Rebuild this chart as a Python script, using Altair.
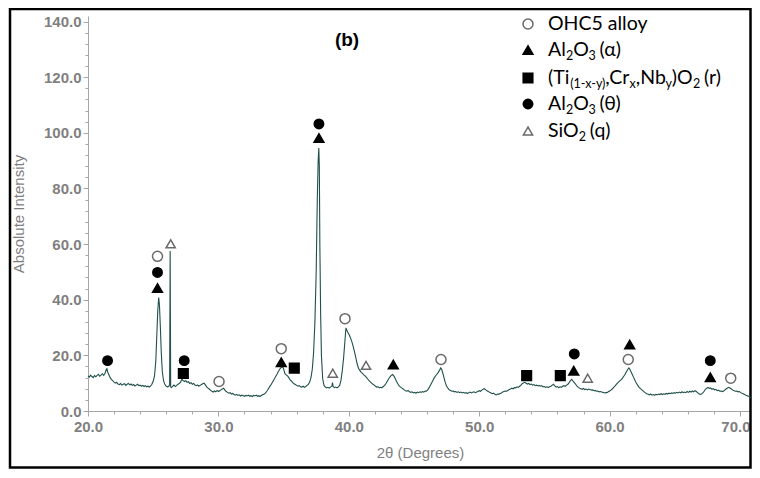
import altair as alt
import pandas as pd

# ---------------- data ----------------
two_theta = [
    20.0, 20.1, 20.2, 20.3, 20.4, 20.5, 20.6, 20.7, 20.8, 20.9, 21.0, 21.1, 21.2, 21.3, 21.4, 21.45, 21.5, 21.6, 21.7, 21.8, 21.9,
    22.0, 22.1, 22.2, 22.3, 22.4, 22.5, 22.6, 22.7, 22.8, 22.9, 23.0, 23.1, 23.2, 23.3, 23.4, 23.5, 23.6, 23.7, 23.8, 23.9,
    24.0, 24.1, 24.2, 24.3, 24.4, 24.5, 24.6, 24.7, 24.8, 24.9, 25.0, 25.1, 25.2, 25.3, 25.35, 25.42, 25.48, 25.55, 25.62, 25.7,
    25.8, 25.9, 26.0, 26.1, 26.2, 26.26, 26.3, 26.34, 26.4, 26.5, 26.6, 26.7, 26.8, 26.9, 27.0, 27.1, 27.2, 27.3, 27.4, 27.5,
    27.6, 27.7, 27.8, 27.9, 28.0, 28.1, 28.2, 28.3, 28.4, 28.5, 28.6, 28.7, 28.8, 28.9, 29.0, 29.1, 29.2, 29.3, 29.4, 29.5,
    29.6, 29.7, 29.8, 29.9, 30.0, 30.1, 30.2, 30.3, 30.4, 30.5, 30.6, 30.7, 30.8, 30.9, 31.0, 31.1, 31.2, 31.3, 31.4, 31.5,
    31.6, 31.7, 31.8, 31.9, 32.0, 32.1, 32.2, 32.3, 32.4, 32.5, 32.6, 32.7, 32.8, 32.9, 33.0, 33.1, 33.2, 33.3, 33.4, 33.5,
    33.6, 33.7, 33.8, 33.9, 34.0, 34.1, 34.2, 34.3, 34.4, 34.5, 34.6, 34.7, 34.8, 34.9, 35.0, 35.1, 35.2, 35.3, 35.4, 35.5,
    35.6, 35.7, 35.8, 35.9, 36.0, 36.1, 36.2, 36.3, 36.4, 36.5, 36.6, 36.7, 36.8, 36.9, 37.0, 37.1, 37.2, 37.3, 37.4, 37.5,
    37.58, 37.65, 37.7, 37.74, 37.78, 37.84, 37.9, 38.0, 38.1, 38.2, 38.3, 38.4, 38.5, 38.6, 38.7, 38.75, 38.8, 38.9, 39.0,
    39.1, 39.2, 39.3, 39.4, 39.5, 39.6, 39.7, 39.78, 39.85, 39.95, 40.05, 40.15, 40.25, 40.35, 40.45, 40.55, 40.65, 40.75,
    40.85, 40.95, 41.05, 41.15, 41.25, 41.35, 41.45, 41.55, 41.65, 41.75, 41.85, 41.95, 42.05, 42.15, 42.25, 42.35, 42.45,
    42.55, 42.65, 42.75, 42.85, 42.95, 43.05, 43.15, 43.25, 43.35, 43.45, 43.55, 43.65, 43.75, 43.85, 43.95, 44.05, 44.15,
    44.25, 44.35, 44.45, 44.55, 44.65, 44.75, 44.85, 44.95, 45.05, 45.15, 45.25, 45.35, 45.45, 45.55, 45.65, 45.75, 45.85,
    45.95, 46.05, 46.15, 46.25, 46.35, 46.45, 46.55, 46.65, 46.75, 46.85, 46.95, 47.05, 47.12, 47.2, 47.3, 47.4, 47.5, 47.6,
    47.7, 47.8, 47.9, 48.0, 48.1, 48.2, 48.3, 48.4, 48.5, 48.6, 48.7, 48.8, 48.9, 49.0, 49.1, 49.2, 49.3, 49.4, 49.5, 49.6,
    49.7, 49.8, 49.9, 50.0, 50.1, 50.2, 50.3, 50.4, 50.5, 50.6, 50.7, 50.8, 50.9, 51.0, 51.1, 51.2, 51.3, 51.4, 51.5, 51.6,
    51.7, 51.8, 51.9, 52.0, 52.1, 52.2, 52.3, 52.4, 52.5, 52.6, 52.7, 52.8, 52.9, 53.0, 53.1, 53.2, 53.3, 53.4, 53.5, 53.6,
    53.7, 53.8, 53.9, 54.0, 54.1, 54.2, 54.3, 54.4, 54.5, 54.6, 54.7, 54.8, 54.9, 55.0, 55.1, 55.2, 55.3, 55.4, 55.5, 55.6,
    55.7, 55.8, 55.9, 56.0, 56.1, 56.2, 56.3, 56.4, 56.5, 56.6, 56.7, 56.8, 56.9, 57.0, 57.1, 57.2, 57.3, 57.4, 57.5, 57.6,
    57.7, 57.8, 57.9, 58.0, 58.1, 58.2, 58.3, 58.4, 58.5, 58.6, 58.7, 58.8, 58.9, 59.0, 59.1, 59.2, 59.3, 59.4, 59.5, 59.6,
    59.7, 59.8, 59.9, 60.0, 60.1, 60.2, 60.3, 60.4, 60.5, 60.6, 60.7, 60.8, 60.9, 61.0, 61.1, 61.2, 61.3, 61.4, 61.48, 61.55,
    61.65, 61.75, 61.85, 61.95, 62.05, 62.15, 62.25, 62.35, 62.45, 62.55, 62.65, 62.75, 62.85, 62.95, 63.05, 63.15, 63.25,
    63.35, 63.45, 63.55, 63.65, 63.75, 63.85, 63.95, 64.05, 64.15, 64.25, 64.35, 64.45, 64.55, 64.65, 64.75, 64.85, 64.95,
    65.05, 65.15, 65.25, 65.35, 65.45, 65.55, 65.65, 65.75, 65.85, 65.95, 66.05, 66.15, 66.25, 66.35, 66.45, 66.55, 66.65,
    66.75, 66.85, 66.95, 67.05, 67.15, 67.25, 67.35, 67.45, 67.55, 67.65, 67.75, 67.85, 67.95, 68.05, 68.15, 68.25, 68.35,
    68.45, 68.55, 68.65, 68.75, 68.85, 68.95, 69.05, 69.15, 69.25, 69.35, 69.45, 69.55, 69.65, 69.75, 69.85, 69.95, 70.05,
    70.15, 70.25, 70.35, 70.45, 70.55, 70.65, 70.75, 70.85,
]
intensity = [
    12.6, 12.2, 12.9, 12.4, 12.0, 12.7, 12.3, 12.8, 13.2, 12.5, 12.9, 13.4, 12.8, 13.5, 14.9, 15.2, 14.2, 13.0, 12.0, 11.3, 10.9,
    10.4, 10.0, 10.3, 9.7, 9.5, 9.9, 9.3, 9.6, 9.8, 9.2, 9.6, 9.9, 9.4, 9.7, 9.2, 9.5, 9.0, 9.3, 9.6, 9.1,
    9.3, 8.9, 9.2, 8.8, 9.1, 8.7, 8.9, 8.6, 9.0, 9.6, 10.8, 12.5, 18.0, 30.0, 36.0, 40.8, 38.0, 30.0, 21.0, 14.0,
    10.8, 9.5, 8.9, 8.7, 8.9, 9.5, 57.5, 8.6, 8.4, 8.9, 9.3, 8.8, 9.2, 9.6, 9.9, 10.4, 11.4, 10.9, 10.6, 10.9,
    10.3, 10.5, 9.9, 10.2, 9.6, 9.9, 9.3, 9.1, 9.4, 8.9, 9.2, 9.5, 9.8, 10.0, 9.4, 8.7, 8.2, 7.9, 7.4, 7.1,
    6.8, 7.2, 6.9, 7.4, 7.0, 7.3, 7.6, 7.9, 8.2, 7.5, 7.0, 6.7, 6.4, 6.6, 6.1, 6.3, 5.9, 5.7, 6.0, 5.6,
    5.8, 5.4, 5.7, 5.5, 5.3, 5.6, 5.4, 5.7, 5.3, 5.5, 5.2, 5.6, 5.4, 5.7, 5.3, 5.5, 5.2, 5.6, 5.9, 6.0,
    6.4, 7.0, 7.7, 8.5, 9.2, 10.0, 10.8, 11.6, 12.5, 13.3, 14.2, 15.0, 15.6, 16.0, 15.2, 13.4, 13.0, 12.6, 12.0, 11.2,
    10.8, 10.2, 9.8, 9.5, 9.2, 8.9, 9.1, 8.7, 8.6, 8.9, 8.5, 8.8, 9.2, 9.6, 10.4, 12.0, 15.0, 21.0, 32.0, 50.0,
    75.0, 90.0, 94.5, 88.0, 60.0, 35.0, 20.0, 11.5, 9.2, 8.6, 8.3, 8.5, 8.2, 8.6, 8.9, 10.2, 8.8, 8.4, 8.6,
    8.3, 8.7, 9.2, 11.0, 14.5, 19.0, 25.0, 29.9, 29.0, 28.0, 27.2, 26.0, 24.7, 23.0, 21.0, 18.9, 16.8, 15.3,
    14.6, 13.9, 13.5, 13.0, 12.6, 12.1, 11.5, 10.9, 10.5, 10.0, 9.6, 9.3, 8.9, 8.6, 8.7, 8.3, 8.5,
    8.4, 8.8, 9.2, 9.9, 10.7, 11.5, 12.2, 12.8, 13.1, 12.6, 11.8, 10.7, 9.9, 9.1, 8.7, 8.3, 8.0,
    7.6, 7.3, 7.1, 7.4, 6.9, 6.7, 6.9, 6.5, 6.7, 6.4, 6.8, 6.6, 6.9, 6.7, 7.0, 6.8, 7.2,
    7.1, 7.6, 8.3, 9.2, 10.1, 11.0, 11.9, 12.6, 13.2, 13.8, 14.6, 15.5, 15.0, 13.8, 12.0, 10.2, 8.9, 8.2,
    7.6, 7.4, 7.1, 7.2, 6.9, 7.0, 6.7, 6.9, 6.6, 6.8, 6.5, 6.7, 6.4, 6.6, 6.3, 6.6, 6.8, 6.5, 6.7, 6.9,
    6.6, 6.8, 7.0, 7.3, 7.1, 7.5, 7.8, 8.0, 7.6, 7.3, 7.0, 6.7, 6.5, 6.2, 6.4, 6.0, 5.8, 6.1, 6.0, 6.3,
    6.5, 6.8, 7.0, 7.2, 7.1, 7.4, 7.7, 7.9, 8.2, 8.0, 8.4, 8.3, 8.7, 8.5, 8.9, 9.3, 9.8, 10.1, 10.3, 10.0,
    9.7, 9.9, 9.5, 9.7, 9.3, 9.5, 9.1, 9.3, 9.0, 9.2, 8.9, 9.1, 8.7, 8.8, 8.5, 8.7, 8.4, 8.8, 8.9, 9.3,
    9.6, 9.0, 8.6, 8.8, 8.4, 8.7, 8.5, 8.9, 9.1, 8.9, 9.3, 9.6, 10.2, 10.9, 11.4, 10.7, 10.2, 9.6, 8.9, 8.5,
    8.2, 8.0, 7.8, 8.1, 7.7, 7.9, 7.6, 7.9, 7.7, 7.5, 7.6, 7.3, 7.4, 7.1, 7.2, 6.9, 7.0, 6.8, 6.7, 6.5,
    6.6, 6.6, 6.9, 7.2, 7.5, 7.9, 8.4, 8.9, 9.5, 10.0, 10.5, 10.9, 11.3, 11.9, 12.6, 13.3, 14.2, 15.0, 15.5, 15.0,
    14.0, 13.0, 12.0, 11.0, 10.1, 9.3, 8.6, 8.1, 7.7, 7.3, 6.9, 6.5, 6.2, 6.0, 5.8, 6.1, 5.7,
    5.9, 5.6, 6.0, 5.8, 6.1, 5.9, 6.2, 5.9, 6.2, 6.0, 6.3, 6.1, 6.4, 6.2, 6.5, 6.3, 6.6,
    6.4, 6.7, 6.5, 6.8, 6.5, 6.9, 6.6, 6.8, 6.6, 7.0, 6.7, 7.1, 6.8, 7.2, 6.9, 7.3, 7.0,
    6.6, 6.2, 6.0, 6.1, 6.5, 7.1, 7.8, 8.2, 8.5, 8.1, 8.3, 7.8, 8.0, 7.6, 7.8, 7.3, 7.5,
    7.1, 7.2, 7.0, 7.2, 7.6, 8.0, 8.3, 8.5, 8.2, 7.9, 7.5, 7.3, 7.1, 7.2, 6.9, 7.0, 6.6,
    6.4, 6.2, 5.9, 5.7, 5.5, 5.3, 5.0, 4.8,
]

marker_x = [21.5, 25.33, 25.33, 25.33, 26.34, 27.38, 27.31, 30.05, 34.82, 34.82, 35.82, 37.71, 37.71, 38.77,
            39.71, 41.32, 43.41, 47.07, 53.64, 56.22, 57.29, 57.25, 58.32, 61.54, 61.43, 67.72, 67.72, 69.29]
marker_y = [18.1, 55.6, 49.8, 44.2, 60.1, 18.1, 13.5, 10.6, 22.4, 17.5, 15.4, 103.2, 98.1, 13.6,
            33.2, 16.4, 16.7, 18.5, 12.7, 12.7, 20.5, 14.5, 11.8, 23.9, 18.5, 18.1, 12.1, 11.8]
marker_phase = ["theta", "alloy", "theta", "alpha", "quartz", "theta", "rutile", "alloy", "alloy", "alpha",
                "rutile", "theta", "alpha", "quartz", "alloy", "quartz", "alpha", "alloy", "rutile", "rutile",
                "theta", "alpha", "quartz", "alpha", "alloy", "theta", "alpha", "alloy"]

phase_keys = ["alloy", "alpha", "rutile", "theta", "quartz"]
# "_{...}" marks a subscript
phase_labels = ["OHC5 alloy", "Al_{2}O_{3} (α)", "(Ti_{(1-x-y)},Cr_{x},Nb_{y})O_{2} (r)",
                "Al_{2}O_{3} (θ)", "SiO_{2} (q)"]

x_major = [20, 30, 40, 50, 60, 70]
y_major = [0, 20, 40, 60, 80, 100, 120, 140]
panel_label = "(b)"
x_title = "2θ (Degrees)"
y_title = "Absolute Intensity"

# ---------------- layout ----------------
PW, PH = 664, 395
XD = [20, 70.92]
YD = [0, 142]


def px_to_x(px):
    return XD[0] + px / PW * (XD[1] - XD[0])


def py_to_y(py):
    return YD[1] - py / PH * (YD[1] - YD[0])


# approximate glyph widths (em) for Lato
W = {" ": 0.19, "(": 0.30, ")": 0.30, ",": 0.21, "-": 0.32, "A": 0.68, "C": 0.67, "H": 0.76, "N": 0.76,
     "O": 0.79, "S": 0.55, "T": 0.60, "a": 0.50, "b": 0.56, "i": 0.24, "l": 0.24, "o": 0.56, "q": 0.56,
     "r": 0.37, "x": 0.49, "y": 0.49, "α": 0.56, "θ": 0.56}
FS_N, FS_S = 19.5, 12.5


def tw(s, fs):
    return sum(W.get(c, 0.58) for c in s) * fs


def pieces(label):
    out = []
    i = 0
    while i < len(label):
        if label.startswith("_{", i):
            j = label.index("}", i)
            out.append((label[i + 2:j], True))
            i = j + 1
        else:
            j = label.find("_{", i)
            j = len(label) if j < 0 else j
            out.append((label[i:j], False))
            i = j
    return out


LEG_SYM_X, LEG_TXT_X = 440, 460
LEG_Y = [8, 34, 62, 88, 115]

sym_rows, txt_rows = [], []
for k, lab, ly in zip(phase_keys, phase_labels, LEG_Y):
    sym_rows.append({"x": px_to_x(LEG_SYM_X), "y": py_to_y(ly), "phase": k})
    cx = LEG_TXT_X
    for txt, sub in pieces(lab):
        fs = FS_S if sub else FS_N
        t = txt.lstrip(" ")
        cx += tw(txt[: len(txt) - len(t)], fs)
        txt_rows.append({"x": px_to_x(cx), "y": py_to_y(ly), "t": t, "sub": sub})
        cx += tw(t, fs)

curve = pd.DataFrame({"tt": two_theta, "I": intensity})
marks = pd.DataFrame({"tt": marker_x, "I": marker_y, "phase": marker_phase})
legsym = pd.DataFrame(sym_rows).rename(columns={"x": "tt", "y": "I"})
legtxt = pd.DataFrame(txt_rows).rename(columns={"x": "tt", "y": "I"})

GRAY = "#7f7f7f"
AXC = "#a6a6a6"
xs = alt.Scale(domain=XD, nice=False, zero=False)
ys = alt.Scale(domain=YD, nice=False)

x_minor = list(range(20, 71, 2))
y_minor = list(range(0, 141, 4))

common = dict(grid=False, domainColor=AXC, tickColor=AXC, labelColor=GRAY, labelFont="Liberation Sans",
              labelFontWeight="bold", labelFontSize=15, labelOverlap=False, labelFlush=False,
              titleColor=GRAY, titleFont="Liberation Sans", titleFontWeight="normal", titleFontSize=15)
last_x = x_major[-1]
x_axis = alt.Axis(values=x_major, format=".1f", tickSize=5, labelPadding=3, title=x_title,
                  titlePadding=11, orient="bottom",
                  labelAlign={"condition": {"test": f"datum.value === {last_x}", "value": "right"},
                              "value": "center"},
                  labelOffset={"condition": {"test": f"datum.value === {last_x}", "value": 10},
                               "value": 0},
                  **common)
y_axis = alt.Axis(values=y_major, format=".1f", tickSize=5, labelPadding=2, title=y_title,
                  titlePadding=17, orient="left", **common)
x_axis_minor = alt.Axis(values=x_minor, tickSize=3, labels=False, domain=False, grid=False,
                        tickColor=AXC, title=None, orient="bottom")
y_axis_minor = alt.Axis(values=y_minor, tickSize=3, labels=False, domain=False, grid=False,
                        tickColor=AXC, title=None, orient="left")

shape_s = alt.Scale(domain=phase_keys, range=["circle", "triangle-up", "square", "circle", "triangle-up"])
fill_s = alt.Scale(domain=phase_keys, range=["white", "black", "black", "black", "white"])
stroke_s = alt.Scale(domain=phase_keys, range=["#6a6a6a", "black", "black", "black", "#6a6a6a"])
size_s = alt.Scale(domain=phase_keys, range=[100, 85, 70, 85, 85])

XN = alt.X("tt:Q", scale=xs, axis=None)
YN = alt.Y("I:Q", scale=ys, axis=None)

frame = alt.Chart(pd.DataFrame({"a": [0]})).mark_rect(
    fill=None, stroke="black", strokeWidth=2.5, clip=False
).encode(x=alt.value(-78), x2=alt.value(662.5), y=alt.value(-7), y2=alt.value(451.5))

ghost = alt.Chart(curve).mark_line(opacity=0).encode(
    x=alt.X("tt:Q", scale=xs, axis=x_axis_minor), y=alt.Y("I:Q", scale=ys, axis=y_axis_minor)
)

line = alt.Chart(curve).mark_line(color="#20504c", strokeWidth=1.1, interpolate="linear").encode(
    x=alt.X("tt:Q", scale=xs, axis=x_axis), y=alt.Y("I:Q", scale=ys, axis=y_axis), order="tt:Q"
)


def pts(df):
    return alt.Chart(df).mark_point(filled=False, strokeWidth=1.5, opacity=1).encode(
        x=XN, y=YN,
        shape=alt.Shape("phase:N", scale=shape_s, legend=None),
        fill=alt.Fill("phase:N", scale=fill_s, legend=None),
        stroke=alt.Stroke("phase:N", scale=stroke_s, legend=None),
        size=alt.Size("phase:N", scale=size_s, legend=None),
    )


markers = pts(marks)
leg_symbols = pts(legsym)

panel = alt.Chart(pd.DataFrame({"t": [panel_label]})).mark_text(
    font="Liberation Sans", fontWeight="bold", fontSize=19, color="black", align="center", baseline="middle"
).encode(x=alt.value(259), y=alt.value(24), text="t:N")

leg_norm = alt.Chart(legtxt[~legtxt["sub"]]).mark_text(
    font="Lato", fontSize=FS_N, color="black", align="left", baseline="middle"
).encode(x=XN, y=YN, text="t:N")
leg_sub = alt.Chart(legtxt[legtxt["sub"]]).mark_text(
    font="Lato", fontSize=FS_S, color="black", align="left", baseline="middle", dy=6
).encode(x=XN, y=YN, text="t:N")

chart = alt.layer(frame, ghost, line, markers, leg_symbols, panel, leg_norm, leg_sub).resolve_axis(
    x="independent", y="independent"
).properties(
    width=PW, height=PH,
    autosize=alt.AutoSizeParams(type="none"),
    padding={"left": 80, "top": 8, "right": 0, "bottom": 58},
    background="white",
).configure_view(stroke=None)

chart.save("out.html", embed_options={"renderer": "svg", "actions": False})
